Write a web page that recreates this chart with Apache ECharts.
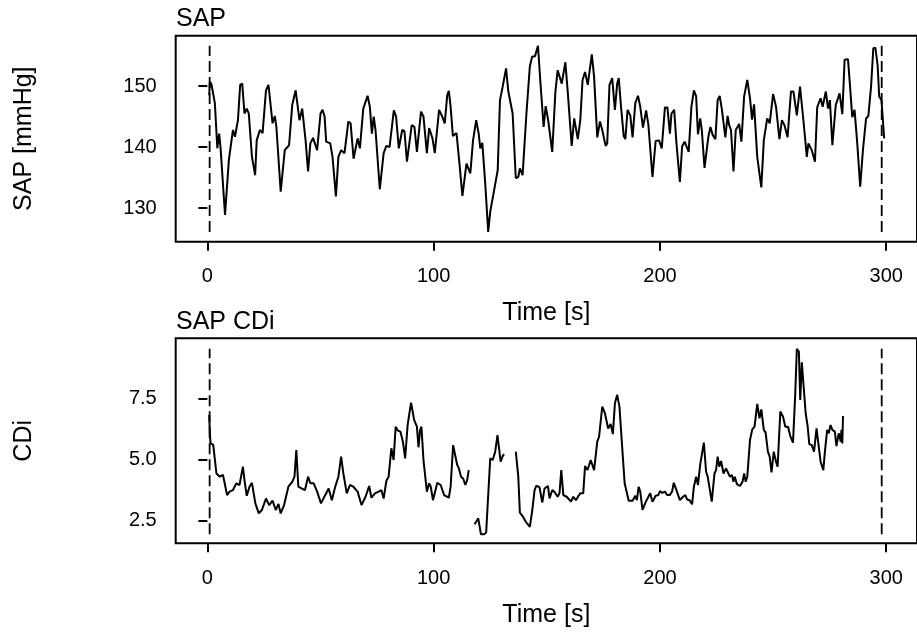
<!DOCTYPE html>
<html>
<head>
<meta charset="utf-8">
<script src="https://cdn.jsdelivr.net/npm/echarts@6/dist/echarts.min.js"></script>
<style>
  html, body { margin: 0; padding: 0; background: #fff; }
  #chart { width: 917px; height: 633px; }
</style>
</head>
<body>
<div id="chart"></div>
<script>
// ---- data ----
const sapTime = [0.8,1.1,1.8,3.3,4.4,5.2,5.8,7.8,9.5,11.3,12.2,13.5,14.5,15.4,16.4,17.4,18.3,19.7,21.1,21.8,23.2,24.4,25.9,27.0,28.8,29.8,30.5,32.4,34.2,36.1,36.8,37.5,39.0,40.7,41.9,43.4,44.5,45.5,46.7,48.5,50.0,50.9,51.8,52.5,54.3,55.3,56.8,57.9,59.1,60.6,62.3,63.3,64.6,66.4,67.4,68.9,70.8,71.8,72.7,73.5,74.3,76.2,77.9,79.1,80.5,82.4,83.4,84.6,86.1,87.1,88.2,90.3,91.5,92.6,94.4,95.5,97.0,98.0,99.5,100.5,102.4,103.8,104.9,106.0,106.7,107.5,108.5,110.1,111.4,112.7,114.5,116.2,117.4,118.8,119.9,120.6,121.5,122.8,124.1,125.0,126.7,128.3,129.3,130.5,132.0,133.0,133.7,134.9,136.3,137.4,138.1,139.3,141.0,142.5,143.5,144.8,146.1,147.1,148.6,149.5,150.6,152.4,153.8,154.8,155.6,156.6,158.2,159.2,161.0,162.1,162.9,163.7,164.8,165.8,166.9,168.1,168.7,169.9,170.9,172.3,173.5,174.5,176.0,176.7,177.7,178.9,180.1,181.1,181.8,182.8,184.0,184.7,185.7,186.9,187.9,189.1,190.3,191.3,192.5,193.9,194.9,196.7,198.1,199.6,200.8,202.2,203.3,204.4,205.1,206.3,207.3,208.8,209.8,210.9,211.7,212.7,213.9,215.0,216.0,216.8,217.8,218.5,219.7,220.4,221.4,222.3,223.3,224.5,225.5,226.4,227.4,228.9,229.9,230.6,231.4,232.5,233.5,235.0,236.0,237.2,238.6,239.8,240.7,241.6,243.0,244.8,245.9,247.4,248.5,250.0,251.3,252.8,253.9,255.0,256.4,257.9,259.0,260.5,261.9,263.4,264.9,265.6,267.1,268.5,269.5,271.0,271.9,273.3,274.3,275.1,276.2,277.7,279.4,280.6,281.6,283.1,283.8,285.0,286.0,287.2,288.5,289.7,291.1,292.1,293.3,294.3,295.2,296.2,296.9,297.9,299.1];
const sapValue = [148.5,150.7,150.3,147.2,139.8,142.2,140.0,128.9,137.9,142.8,141.7,144.4,150.2,150.4,145.5,146.3,145.5,138.4,135.4,141.1,142.8,142.3,149.3,150.2,143.9,145.1,143.3,132.7,139.5,140.3,140.3,146.9,149.3,144.4,146.3,141.1,136.0,140.6,141.5,139.5,145.5,146.1,145.0,140.9,140.6,138.4,131.9,138.4,139.5,139.0,144.2,143.9,138.1,141.4,139.8,146.3,148.4,146.6,142.2,145.0,142.8,133.1,139.0,140.2,140.0,146.0,145.0,139.8,142.8,142.6,137.6,143.6,143.3,139.2,145.8,145.0,139.0,143.1,141.4,139.0,146.1,145.0,143.9,148.5,149.2,146.6,141.8,142.3,137.3,132.0,137.3,135.7,141.1,144.4,142.2,139.8,140.7,134.0,126.1,129.4,132.9,136.2,147.7,149.9,152.9,149.1,149.3,145.5,134.9,135.1,136.5,135.4,145.5,153.2,154.8,154.9,156.6,151.0,143.3,146.7,144.4,139.2,149.1,152.6,152.3,150.4,153.9,149.3,140.2,144.7,144.5,141.3,144.4,151.0,152.3,150.2,150.0,155.2,151.5,141.6,144.2,142.8,140.2,140.6,150.2,151.3,146.1,150.4,151.3,146.6,141.8,141.3,146.1,145.2,141.6,147.2,148.4,146.6,143.2,146.0,143.6,135.1,141.0,141.1,139.8,146.5,146.5,142.2,145.5,146.1,140.6,134.3,140.1,140.9,141.1,139.2,146.6,149.3,148.3,142.1,144.7,142.8,136.6,136.8,141.7,143.3,142.0,141.3,147.7,148.4,146.1,141.6,145.1,143.6,142.8,136.0,142.8,143.8,140.9,148.3,151.0,148.0,144.5,147.0,138.4,133.4,141.1,144.7,143.9,148.7,146.6,141.3,144.4,143.6,141.6,149.1,149.1,145.2,149.9,144.4,138.4,140.6,139.5,137.6,146.5,148.0,146.6,149.1,146.3,147.7,140.3,146.9,148.8,145.4,154.3,154.4,151.0,144.9,146.1,140.6,133.5,139.5,144.7,145.1,149.9,156.2,156.3,153.4,148.3,147.7,141.4];

const cdiTime = [0.8,1.1,1.4,2.6,4.0,5.5,6.9,8.7,9.8,11.3,12.8,14.2,15.7,16.4,17.4,18.6,19.7,21.2,22.7,24.1,25.9,27.3,28.8,30.2,31.4,32.4,33.9,35.8,37.5,38.5,39.3,40.2,41.6,43.1,44.5,45.5,47.0,48.5,50.2,52.1,53.6,55.0,56.5,57.9,59.1,60.1,61.6,63.0,64.5,66.4,68.1,69.9,71.5,72.5,74.0,75.7,76.9,77.9,79.1,80.1,81.3,82.3,83.2,84.2,85.3,86.4,87.4,88.5,90.0,91.4,92.6,93.3,94.0,94.6,95.5,97.0,98.0,98.7,99.7,101.6,103.1,104.6,106.7,107.5,108.6,109.2,110.4,111.1,112.1,113.0,114.0,114.8,115.5,116.8,118.1,119.7,120.9,122.3,123.2,125.0,126.1,127.2,128.2,128.6,129.6,130.5,131.1,133.7,136.3,137.4,138.1,139.3,140.7,142.5,143.6,144.6,145.4,146.8,148.0,149.0,150.5,151.2,152.4,153.4,154.8,155.6,156.4,157.3,158.8,160.7,161.7,162.9,163.9,164.8,166.1,166.9,168.0,169.4,170.9,172.3,173.1,174.5,175.7,177.1,178.2,179.2,180.1,181.1,182.1,183.3,184.4,186.2,187.9,189.1,189.8,190.6,191.3,192.3,193.8,194.9,195.7,196.7,198.1,199.3,200.0,201.0,202.2,203.2,204.4,205.4,206.1,207.3,208.8,210.2,211.2,212.0,213.1,214.2,215.0,216.0,216.8,217.8,218.5,219.4,220.4,221.1,222.9,224.1,224.8,225.5,226.2,227.0,228.1,229.2,229.9,230.9,231.8,232.5,233.1,234.0,235.4,236.5,237.2,237.9,238.6,239.8,240.8,241.8,243.0,244.0,244.8,245.9,246.7,247.7,248.5,249.3,250.3,251.3,252.0,253.2,254.4,255.4,256.6,257.6,258.8,259.8,260.5,261.4,262.0,262.7,263.4,264.4,265.3,266.0,267.1,268.1,269.2,270.1,271.0,272.2,272.9,273.9,274.6,275.4,276.2,277.3,278.0,279.0,279.9,280.2,280.6,280.9];
const cdiValue = [6.82,6.07,5.66,5.6,4.43,4.3,4.37,3.55,3.69,3.75,4.03,3.96,4.71,4.15,3.52,3.89,4.05,3.21,2.8,2.94,3.41,3.14,3.32,2.94,3.19,2.8,3.14,3.89,4.09,4.3,5.39,3.89,3.82,3.75,4.3,4.03,4.03,3.69,3.21,3.55,3.82,3.34,3.89,4.3,5.12,4.43,3.62,3.96,3.89,3.69,3.14,3.48,3.92,3.44,3.62,3.69,3.75,3.41,4.13,4.3,5.46,4.98,6.34,6.18,6.14,5.73,5.05,6.41,7.32,6.61,6.34,5.5,6.2,6.34,4.98,3.69,4.03,3.9,3.34,4.05,3.96,3.55,3.44,3.9,5.59,5.62,4.78,4.65,4.3,4.23,3.96,4.16,4.57,null,2.36,2.6,1.95,1.95,2.02,5.05,4.98,5.32,6.0,6.0,4.91,5.14,5.22,null,5.32,4.3,2.83,2.69,2.46,2.25,2.94,3.75,3.93,3.86,3.24,3.82,3.92,3.41,3.75,3.68,3.48,3.62,4.57,3.55,3.48,3.28,3.48,3.34,3.5,3.62,3.62,4.73,4.57,4.98,4.57,5.73,5.93,7.16,6.89,6.27,6.45,6.04,7.3,7.64,7.16,5.52,4.03,3.32,3.32,3.52,3.34,3.89,3.69,2.94,3.28,3.48,3.62,3.28,3.52,3.55,3.71,3.64,3.69,3.55,3.55,3.71,4.05,3.75,3.34,3.48,3.55,3.37,3.34,3.17,3.89,4.3,3.96,4.8,4.84,5.69,4.5,4.3,3.28,4.43,4.57,5.12,4.71,4.94,4.43,4.64,4.5,4.3,4.37,4.09,4.3,4.0,3.92,4.09,4.43,4.09,4.3,5.8,6.23,6.34,7.27,6.68,7.05,6.21,6.1,5.32,5.12,4.48,5.32,4.91,4.71,6.96,6.75,6.34,6.34,5.96,5.69,7.7,9.52,9.41,7.43,8.97,8.11,6.89,6.34,5.63,5.59,5.32,6.27,5.59,4.91,4.57,5.32,6.21,6.07,6.41,6.21,6.14,5.55,6.07,5.73,6.21,5.66,6.78];

const markerTimes = [1, 298];
const xTicks = [0, 100, 200, 300];
const sapTicks = [130, 140, 150];
const cdiTicks = [2.5, 5.0, 7.5];
const titles = ['SAP', 'SAP CDi'];
const yNames = ['SAP [mmHg]', 'CDi'];
const xName = 'Time [s]';

// ---- build ----
const FONT = 'Liberation Sans, Arial, Helvetica, sans-serif';
const pairs = (ts, vs) => ts.map((t, i) => [t, vs[i] == null ? '-' : vs[i]]);
const range = vs => { const f = vs.filter(v => v != null); return [Math.min(...f), Math.max(...f)]; };
const sapR = range(sapValue), cdiR = range(cdiValue);
const markerSeg = (r, idx) => markerTimes.map(t => ({
  type: 'line', xAxisIndex: idx, yAxisIndex: idx, symbol: 'none', silent: true,
  data: [[t, r[0]], [t, r[1]]],
  lineStyle: { color: '#000', width: 1.8, type: [11, 5] }
}));

const gridL = 175.7, gridR = -7.3;
function xAxis(idx) {
  return {
    type: 'value', gridIndex: idx, min: -14, max: 313.6,
    name: xName, nameLocation: 'middle', nameGap: 59,
    nameTextStyle: { color: '#000', fontSize: 25, fontFamily: FONT },
    axisLine: { show: false }, splitLine: { show: false },
    axisTick: { show: true, length: 9, customValues: xTicks, lineStyle: { color: '#000', width: 2 } },
    axisLabel: { customValues: xTicks, color: '#000', fontSize: 20, fontFamily: FONT, margin: 25 }
  };
}
function yAxis(idx, min, max, ticks, name, fmt) {
  return {
    type: 'value', gridIndex: idx, min: min, max: max,
    name: name, nameLocation: 'middle', nameGap: 139, nameRotate: 90,
    nameTextStyle: { color: '#000', fontSize: 25, fontFamily: FONT },
    axisLine: { show: false }, splitLine: { show: false },
    axisTick: { show: true, length: 9, customValues: ticks, lineStyle: { color: '#000', width: 2 } },
    axisLabel: { customValues: ticks, color: '#000', fontSize: 20, fontFamily: FONT, margin: 19, formatter: fmt }
  };
}

const option = {
  backgroundColor: '#fff',
  animation: false,
  title: [
    { text: titles[0], left: 176, top: 7, padding: 0, textStyle: { color: '#000', fontSize: 25, fontWeight: 'normal', fontFamily: FONT } },
    { text: titles[1], left: 176, top: 310, padding: 0, textStyle: { color: '#000', fontSize: 25, fontWeight: 'normal', fontFamily: FONT } }
  ],
  grid: [
    { left: gridL, right: gridR, top: 35.7, height: 206, show: true, borderColor: '#000', borderWidth: 2, backgroundColor: 'transparent' },
    { left: gridL, right: gridR, top: 338.3, height: 205, show: true, borderColor: '#000', borderWidth: 2, backgroundColor: 'transparent' }
  ],
  xAxis: [xAxis(0), xAxis(1)],
  yAxis: [
    yAxis(0, 124.5, 158.25, sapTicks, yNames[0], v => String(v)),
    yAxis(1, 1.58, 9.95, cdiTicks, yNames[1], v => Number(v).toFixed(1))
  ],
  series: [
    { type: 'line', xAxisIndex: 0, yAxisIndex: 0, symbol: 'none', data: pairs(sapTime, sapValue),
      lineStyle: { color: '#000', width: 2 } },
    { type: 'line', xAxisIndex: 1, yAxisIndex: 1, symbol: 'none', connectNulls: false, data: pairs(cdiTime, cdiValue),
      lineStyle: { color: '#000', width: 2 } },
    ...markerSeg(sapR, 0),
    ...markerSeg(cdiR, 1)
  ]
};

const chart = echarts.init(document.getElementById('chart'), null, { renderer: 'canvas' });
chart.setOption(option);
</script>
</body>
</html>
